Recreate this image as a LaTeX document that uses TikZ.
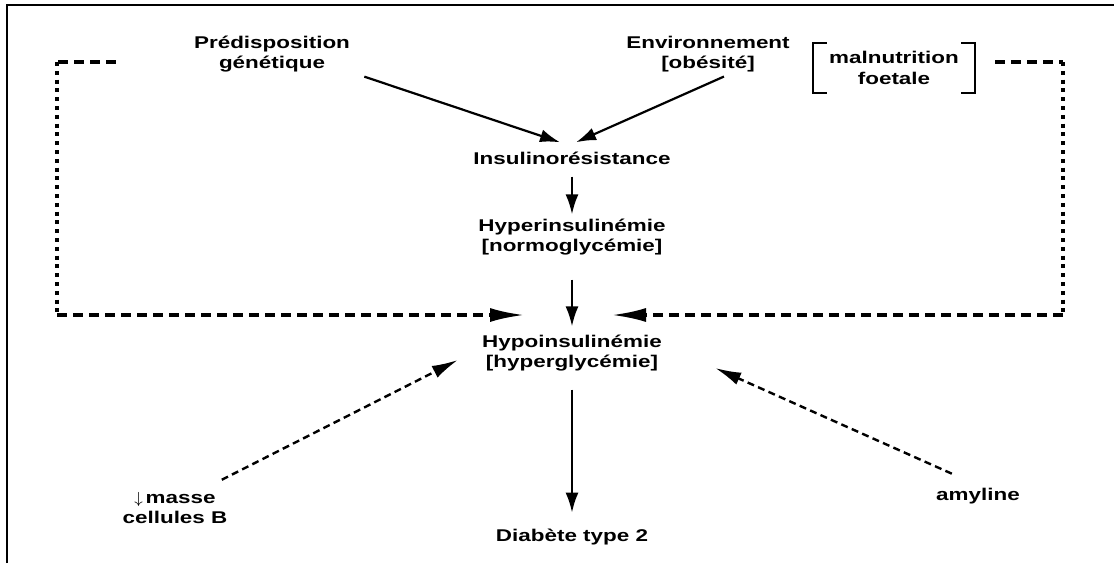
\documentclass[tikz,border=0pt]{standalone}
\usepackage{fontspec}
\setmainfont{Liberation Sans}[FakeStretch=1.32]
\usepackage{tikz}
\usetikzlibrary{arrows.meta,positioning}

\tikzset{
  lbl/.style={font=\bfseries\fontsize{8.5}{10.2}\selectfont,align=center,inner sep=2pt},
  arr/.style={line width=1.1pt,-{Latex[length=10pt,width=6.5pt]}},
  fb/.style={line width=1.6pt,dash pattern=on 5pt off 3pt},
  fbarr/.style={fb,-{Latex[length=17pt,width=7pt]}},
  fbdot/.style={line width=1.8pt,dash pattern=on 2pt off 2.4pt},
  infl/.style={line width=1.2pt,dash pattern=on 3.5pt off 2.2pt,-{Latex[length=13pt,width=6.5pt]}}
}

\begin{document}
\begin{tikzpicture}[x=0.5pt,y=-0.5pt,on grid]
    \useasboundingbox (0,0) rectangle (1114,563);
    \draw[line width=1.2pt] (7,563) -- (7,5) -- (1114,5);

    \node[lbl] (ins) at (572,158) {Insulinorésistance};
    \node[lbl] (hyper) [below of = ins, node distance=39.5pt] {Hyperinsulinémie\\{[normoglycémie]}};
    \node[lbl] (hypo) [below of = hyper, node distance=58pt] {Hypoinsulinémie\\{[hyperglycémie]}};
    \node[lbl] (diab) [below of = hypo, node distance=92pt] {Diabète type 2};
    \node[lbl] (pred) at (272,54) {Prédisposition\\génétique};
    \node[lbl] (env) at (708,54) {Environnement\\{[obésité]}};
    \node[lbl,inner xsep=8pt,inner ysep=4pt] (maln) at (894,68) {malnutrition\\foetale};
    \node[lbl] (masse) at (175,508) {$\downarrow$\,masse\\cellules B};
    \node[lbl] (amyl) at (978,496) {amyline};

    \draw[line width=1pt] ([xshift=7pt]maln.north west) -- (maln.north west)
        -- (maln.south west) -- ([xshift=7pt]maln.south west);
    \draw[line width=1pt] ([xshift=-7pt]maln.north east) -- (maln.north east)
        -- (maln.south east) -- ([xshift=-7pt]maln.south east);

    \draw[arr] ([xshift=5pt]pred.south east) -- ([shift={(-6pt,2.5pt)}]ins.north);
    \draw[arr] ([xshift=8pt]env.south) -- ([shift={(2pt,2.5pt)}]ins.north);
    \draw[arr,shorten <=4pt] (ins) -- (hyper);
    \draw[arr,shorten <=10pt,shorten >=2pt] (hyper) -- (hypo);
    \draw[arr,shorten <=7pt,shorten >=6pt] (hypo) -- (diab);

    \coordinate (lt) at (57,62);
    \coordinate (lb) at (57,315);
    \draw[fb] ([xshift=-37pt]pred.west |- lt) -- (lt);
    \draw[fbdot] (lt) -- (lb);
    \draw[fbarr] (lb) -- ([xshift=-24pt]hypo.north |- lb);

    \coordinate (rt) at (1063,62);
    \coordinate (rb) at (1063,315);
    \draw[fb] ([xshift=10pt]maln.east |- rt) -- (rt);
    \draw[fbdot] (rt) -- (rb);
    \draw[fbarr] (rb) -- ([xshift=20pt]hypo.north |- rb);

    \draw[infl] ([shift={(-5pt,4pt)}]masse.north east) -- ([shift={(-10pt,-3.5pt)}]hypo.west);
    \draw[infl] ([shift={(10pt,5pt)}]amyl.north west) -- ([shift={(24.5pt,-7.5pt)}]hypo.east);
\end{tikzpicture}
\end{document}
